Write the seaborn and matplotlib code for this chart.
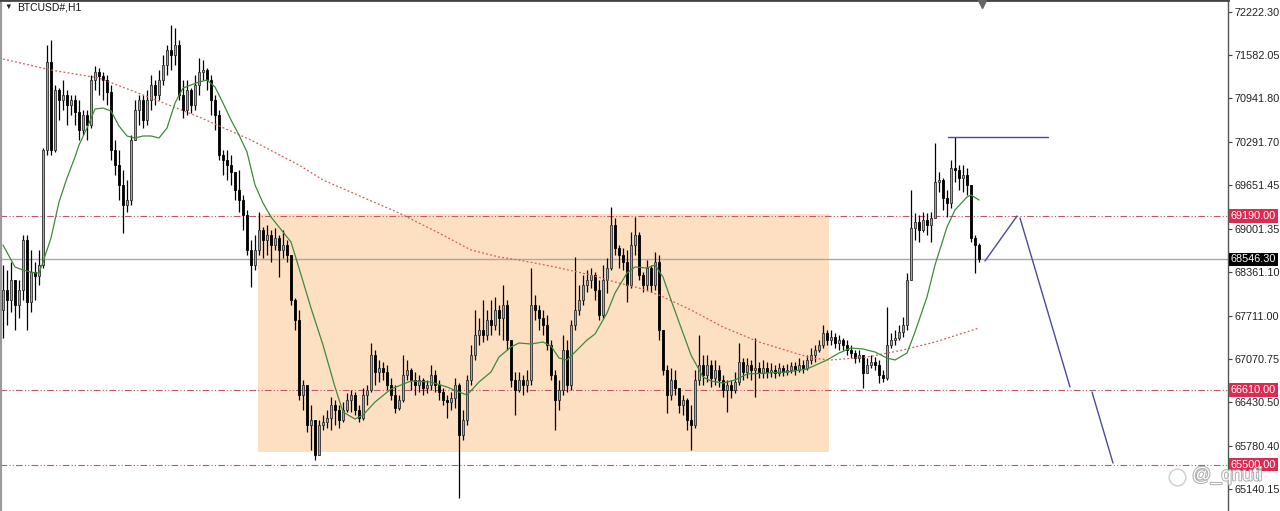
import numpy as np
import matplotlib.pyplot as plt
import seaborn as sns
from matplotlib.patches import Rectangle
from matplotlib.lines import Line2D
import matplotlib.transforms as mtransforms
import matplotlib.patheffects as pe

# BTCUSD H1 candles (prices), open = previous close
first_open = 67800
closes = [68092, 67944, 68241, 67870, 68092, 68834, 67914, 68360, 68300, 68463,
          70170, 71476, 70170, 71060, 70912, 70986, 70838, 70912, 70734, 70467,
          70689, 70541, 71209, 71328, 71268, 71209, 71031, 70170, 69947, 69651,
          69354, 69428, 70318, 70764, 70912, 70615, 70912, 71135, 70986, 71209,
          71431, 71654, 71580, 71728, 70986, 70764, 71060, 70838, 71135, 71328,
          71357, 71209, 70912, 70689, 70096, 70022, 69947, 69844, 69576, 69428,
          69205, 68686, 68463, 68686, 68983, 68834, 68909, 68760, 68864, 68686,
          68760, 68612, 67944, 67647, 66534, 66683, 66089, 66163, 65644, 66089,
          66134, 66193, 66386, 66312, 66163, 66312, 66460, 66534, 66312, 66193,
          66534, 66608, 67128, 66876, 66935, 66876, 66683, 66534, 66341, 66460,
          66831, 66905, 66757, 66683, 66757, 66638, 66683, 66831, 66683, 66579,
          66460, 66430, 66490, 66683, 65941, 66163, 66757, 67128, 67425, 67499,
          67425, 67647, 67573, 67796, 67677, 67870, 67350, 66757, 66608, 66757,
          66683, 66757, 67870, 67796, 67677, 67573, 67276, 66831, 66460, 66608,
          67202, 66683, 67573, 67796, 67944, 68167, 68241, 68315, 68092, 67721,
          68241, 68419, 69057, 68716, 68612, 68508, 68167, 68760, 68909, 68315,
          68167, 68419, 68167, 68508, 67499, 66905, 66534, 66757, 66638, 66386,
          66460, 66163, 66089, 66757, 66979, 66831, 66979, 66786, 66905, 66757,
          66608, 66683, 66608, 66727, 67024, 66876, 66979, 66905, 66935, 66861,
          66935, 66876, 66905, 66861, 66935, 66876, 66905, 66965, 66905, 66979,
          66935, 67054, 67128, 67202, 67276, 67454, 67350, 67395, 67306, 67350,
          67276, 67202, 67157, 67083, 67128, 66861, 66979, 67024, 66979, 66831,
          66786, 67276, 67350, 67380, 67469, 67573, 68241, 69012, 69102, 68983,
          69131, 69057, 69161, 69695, 69725, 69458, 69383, 69903, 69873, 69754,
          69799, 69651, 68864, 68760, 68546.3]
highs = [68463, 68389, 68508, 68167, 68241, 68909, 68909, 68686, 68508, 68686,
         70200, 71728, 71802, 71135, 71090, 71209, 71060, 70986, 70986, 70912,
         70764, 70764, 71283, 71417, 71387, 71328, 71283, 71135, 70318, 70170,
         69873, 69725, 70393, 70912, 70986, 70986, 71060, 71283, 71209, 71357,
         71580, 71728, 72025, 71980, 71802, 71209, 71209, 71090, 71283, 71535,
         71506, 71387, 71283, 70986, 70764, 70170, 70170, 70096, 69799, 69873,
         69502, 69280, 68834, 68909, 69250, 69027, 69057, 68983, 69012, 68909,
         68983, 68834, 68612, 67974, 67796, 66757, 66638, 66386, 66089, 66163,
         66237, 66312, 66505, 66460, 66386, 66430, 66564, 66608, 66579, 66386,
         66638, 66683, 67306, 67202, 67054, 67024, 66979, 66786, 66683, 66534,
         67128, 67054, 66935, 66876, 66831, 66786, 66757, 66979, 66905, 66757,
         66638, 66534, 66579, 66786, 66712, 66312, 66831, 67276, 67796, 67677,
         67944, 67796, 67944, 67989, 67870, 68167, 67944, 67350, 66876, 66876,
         66831, 66905, 68419, 68018, 67870, 67796, 67721, 67350, 66905, 66757,
         67425, 67350, 67647, 68582, 68167, 68315, 68389, 68419, 68360, 68241,
         68463, 68567, 69324, 69161, 68760, 68716, 68686, 68953, 69176, 68953,
         68360, 68538, 68463, 68656, 68612, 67425, 66979, 66935, 66905, 66608,
         66534, 66490, 66386, 66905, 67425, 67128, 67128, 67054, 67054, 66979,
         66831, 66757, 66757, 66876, 67306, 67083, 67083, 67054, 67380, 67024,
         67054, 67024, 67009, 66979, 67009, 66979, 66994, 67024, 67024, 67083,
         67054, 67128, 67232, 67276, 67350, 67573, 67499, 67499, 67454, 67425,
         67380, 67350, 67276, 67202, 67202, 67128, 67083, 67128, 67098, 67054,
         66905, 67840, 67454, 67499, 67573, 67692, 68345, 69576, 69235, 69205,
         69250, 69235, 69250, 70274, 69844, 69754, 69576, 70022, 70363, 69947,
         69947, 69903, 69576, 68909, 68790]
lows = [67380, 67573, 67766, 67499, 67677, 67944, 67499, 67766, 67944, 68167,
        68419, 70096, 70096, 70140, 70615, 70764, 70541, 70689, 70541, 70318,
        70393, 70318, 70496, 71060, 70986, 70912, 70838, 70022, 69799, 69428,
        68938, 69250, 69354, 70318, 70541, 70496, 70541, 70764, 70838, 70912,
        71135, 71283, 71357, 71431, 70912, 70645, 70689, 70719, 70764, 70986,
        71209, 71060, 70689, 70467, 70022, 69799, 69725, 69651, 69428, 69250,
        68983, 68612, 68137, 68389, 68612, 68567, 68612, 68508, 68686, 68285,
        68567, 68508, 67870, 67499, 66460, 66312, 65985, 65718, 65570, 65748,
        66015, 66044, 66015, 66089, 66044, 66134, 66282, 66282, 66237, 66134,
        66163, 66386, 66579, 66683, 66727, 66757, 66608, 66460, 66267, 66312,
        66430, 66757, 66608, 66534, 66579, 66534, 66564, 66608, 66579, 66460,
        66386, 66193, 66312, 66341, 65006, 65866, 66089, 66683, 67054, 67276,
        67321, 67350, 67425, 67499, 67425, 67350, 67202, 66653, 66237, 66579,
        66534, 66579, 66683, 67647, 67499, 67425, 67202, 66757, 66015, 66312,
        66534, 66579, 66608, 67499, 67721, 67870, 68063, 68122, 67944, 67647,
        67677, 68048, 68389, 68612, 68419, 68389, 67914, 68122, 68612, 68241,
        68063, 68092, 68063, 68092, 67350, 66831, 66267, 66460, 66534, 66267,
        66237, 66015, 65718, 66044, 66683, 66683, 66727, 66653, 66683, 66653,
        66505, 66282, 66490, 66564, 66683, 66757, 66786, 66757, 66505, 66786,
        66786, 66786, 66801, 66786, 66816, 66816, 66831, 66861, 66831, 66876,
        66861, 66905, 66994, 67024, 67172, 67232, 67276, 67276, 67232, 67202,
        67202, 67128, 67083, 67009, 67024, 66638, 66876, 66935, 66905, 66712,
        66727, 66757, 67232, 67276, 67350, 67395, 67499, 68315, 68834, 68805,
        68953, 68909, 68805, 69205, 69547, 69280, 69176, 69309, 69695, 69576,
        69547, 69502, 68805, 68345, 68508]

# moving averages (bar index, price)
ma_fast_bar = [0, 3, 5, 8, 9, 10, 12, 13, 14, 16, 18, 19, 21, 23, 25, 27, 29, 31, 33, 35,
               37, 39, 41, 43, 45, 47, 49, 51, 53, 55, 57, 59, 61, 63, 65, 67, 70, 72, 74, 77,
               80, 83, 85, 88, 90, 93, 97, 102, 107, 111, 114, 116, 119, 122, 124, 127, 129, 132, 135, 137,
               139, 141, 143, 146, 148, 151, 153, 156, 158, 161, 163, 165, 167, 170, 172, 175, 177, 180, 183, 186,
               191, 196, 201, 206, 209, 212, 215, 218, 221, 223, 226, 228, 231, 233, 236, 238, 241, 242, 244]
ma_fast = [68760, 68434, 68389, 68345, 68345, 68508, 68864, 69131, 69398, 69754,
           70066, 70244, 70496, 70778, 70793, 70749, 70526, 70378, 70348, 70378,
           70378, 70348, 70496, 70867, 71090, 71135, 71179, 71209, 71105, 70867,
           70615, 70393, 70140, 69651, 69383, 69176, 68953, 68805, 68419, 67825,
           67276, 66653, 66282, 66178, 66237, 66430, 66623, 66742, 66727, 66653,
           66579, 66534, 66727, 66876, 67098, 67247, 67306, 67291, 67321, 67261,
           67083, 67054, 67172, 67350, 67439, 67751, 68048, 68345, 68434, 68419,
           68463, 68285, 67944, 67454, 67128, 66801, 66742, 66712, 66757, 66846,
           66861, 66876, 66920, 67054, 67157, 67232, 67217, 67172, 67083, 67054,
           67157, 67469, 67989, 68463, 69027, 69280, 69473, 69502, 69428]
ma_slow_bar = [0, 12, 24, 37, 49, 62, 74, 80, 99, 109, 117, 124, 129, 138, 147, 153, 159, 164,
               172, 180, 189, 198, 202, 207, 216, 225, 233, 244]
ma_slow = [71520, 71357, 71238, 70942, 70660, 70318, 69947, 69725, 69235, 68938, 68686, 68582,
           68538, 68434, 68315, 68211, 68122, 68018, 67796, 67543, 67321, 67157, 67083, 67054,
           67098, 67202, 67321, 67528]

levels = [69190.00, 66610.00, 65500.00]
last_price = 68546.30
zone_bars = [63.75, 206.5]
zone_prices = [65688, 69220]
high_bar = [236.25, 261.25]
high_price = [70363, 70363]
path1_bar = [245.5, 253.5]
path1_price = [68523, 69190]
path2_bar = [254.25, 266.75]
path2_price = [69161, 66653]
path3_bar = [272.25, 277.5]
path3_price = [66579, 65525]
tick_labels = ['72222.30', '71582.05', '70941.80', '70291.70', '69651.45', '69001.35',
               '68361.10', '67711.00', '67070.75', '66430.50', '65780.40', '65140.15']

sns.set_style('white')
plt.rcParams['font.family'] = ['Liberation Sans', 'DejaVu Sans']

fig = plt.figure(figsize=(12.8, 5.11), dpi=100)
ax = fig.add_axes([0, 0, 1228 / 1280, 1])

c = np.array(closes, dtype=float)
o = np.r_[first_open, c[:-1]]
h = np.maximum.reduce([np.array(highs, dtype=float), o, c])
l = np.minimum.reduce([np.array(lows, dtype=float), o, c])
idx = np.arange(len(c))
up = c >= o

# supply/demand box
ax.add_patch(Rectangle((zone_bars[0], zone_prices[0]), zone_bars[1] - zone_bars[0],
                       zone_prices[1] - zone_prices[0], facecolor='#fde0c2',
                       edgecolor='none', zorder=0))

for lv in levels:
    ax.axhline(lv, color='#c0566a', lw=0.8, dashes=(6, 2, 1, 2, 1, 2), zorder=1.5)
ax.axhline(last_price, color='#a8a8a8', lw=1.0, zorder=1.6)

# candles
ax.vlines(idx, l, h, color='black', lw=0.9, zorder=2.9)
body = np.maximum(np.abs(c - o), 10)
ax.bar(idx[up], body[up], bottom=o[up], width=0.72, color='#a6a6a6',
       edgecolor='#303030', linewidth=0.6, zorder=3)
ax.bar(idx[~up], body[~up], bottom=c[~up], width=0.72, color='black',
       edgecolor='black', linewidth=0.6, zorder=3)

sns.lineplot(x=ma_slow_bar, y=ma_slow, ax=ax, color='#d45a5e', lw=0.9,
             linestyle=(0, (1.5, 1.8)), zorder=4)
sns.lineplot(x=ma_fast_bar, y=ma_fast, ax=ax, color='#3f8a3c', lw=0.9, zorder=4)

for bx, py in [(high_bar, high_price), (path1_bar, path1_price),
               (path2_bar, path2_price), (path3_bar, path3_price)]:
    sns.lineplot(x=bx, y=py, ax=ax, color='#4a4a9c', lw=1.0, zorder=4)

ax.set_xlim(-0.75, 306.25)
ax.set_ylim(64813, 72396)
ax.set_xticks([])
ax.yaxis.tick_right()
ax.set_yticks([float(t) for t in tick_labels])
ax.set_yticklabels(tick_labels)
ax.tick_params(axis='y', direction='out', length=3, width=0.8, color='#444444',
               labelsize=7.8, labelcolor='#222222', pad=2)
ax.spines['left'].set(color='#9a9a9a', lw=3)
ax.spines['top'].set(color='#444444', lw=2)
ax.spines['right'].set(color='#555555', lw=1)
ax.spines['bottom'].set_visible(False)

# price tags on the axis
trans = mtransforms.blended_transform_factory(ax.transAxes, ax.transData)
tags = [(lv, f'{lv:.2f}', '#dc2a52') for lv in levels] + [(last_price, f'{last_price:.2f}', 'black')]
for py, txt, col in tags:
    ax.text(1 + 3 / 1228, py, txt, transform=trans, ha='left', va='center', color='white',
            fontsize=7.8, zorder=6, bbox=dict(boxstyle='square,pad=0.15', fc=col, ec='none'))

ax.plot([244.75], [72330], marker='v', color='#666666', ms=6, clip_on=False, zorder=6)

fig.text(4 / 1280, 1 - 7 / 511, '\u25bc', fontsize=5.5, va='center', color='#222222')
fig.text(17 / 1280, 1 - 7 / 511, 'BTCUSD#,H1', fontsize=7.5, va='center', color='#111111')

# faint watermark
fig.add_artist(Line2D([1177 / 1280], [1 - 477 / 511], marker='o', ms=12, mfc='none',
                      mec='#d4d4d4', mew=1.2, transform=fig.transFigure))
fig.text(1192 / 1280, 1 - 476 / 511, '@_qnuti', fontsize=13.5, va='center', color='white',
         path_effects=[pe.withStroke(linewidth=1.5, foreground='#b0b0b0')])

fig.savefig('out.png', dpi=100)
